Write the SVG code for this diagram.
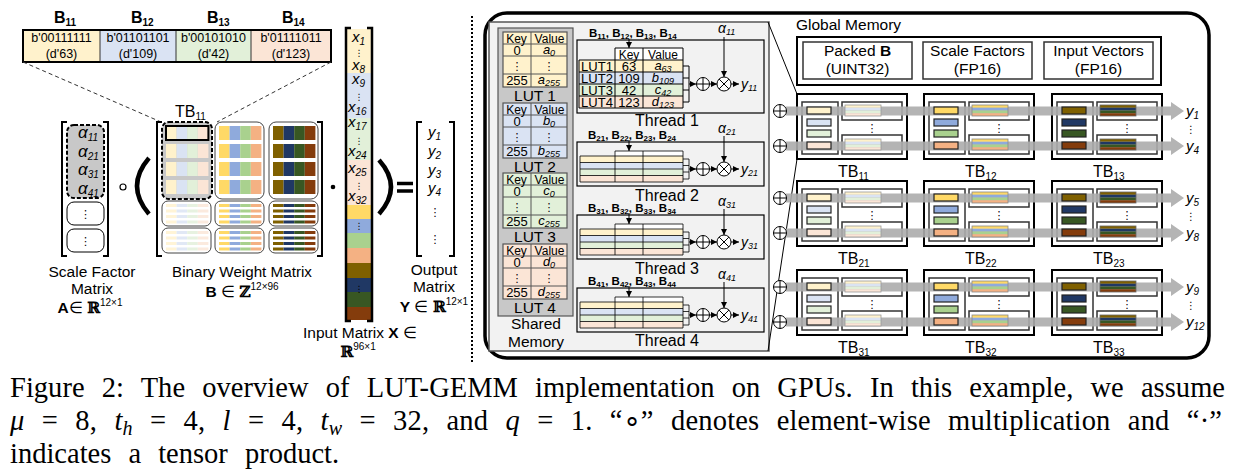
<svg xmlns="http://www.w3.org/2000/svg" xmlns:xlink="http://www.w3.org/1999/xlink" width="1245" height="473" viewBox="0 0 1245 473">
<style>
text{font-family:"Liberation Sans",Arial,sans-serif;fill:#000}
.c{text-anchor:middle}
.i{font-style:italic}
.b{font-weight:bold}
.bb{font-family:"DejaVu Serif",serif;font-weight:bold}
.dots{font-family:"DejaVu Sans",sans-serif;text-anchor:middle}
.cap{font-family:"Liberation Serif","Times New Roman",serif;font-size:28.5px;word-spacing:10px}
.hd{font-size:12px;text-anchor:middle}
.arr{fill:none;stroke:#000;stroke-width:1;marker-end:url(#ah)}
</style>
<defs>
<marker id="ah" viewBox="0 0 6 6" refX="6" refY="3" markerWidth="6" markerHeight="6" orient="auto"><path d="M0,0L6,3L0,6z" fill="#000"/></marker>
<g id="oplus"><circle r="6.5" fill="#fff" stroke="#000" stroke-width="1"/><path d="M-6.5,0H6.5M0,-6.5V6.5" stroke="#000" stroke-width="1"/></g>
<g id="otimes"><circle r="7" fill="#fff" stroke="#000" stroke-width="1"/><path d="M-4.9,-4.9L4.9,4.9M-4.9,4.9L4.9,-4.9" stroke="#000" stroke-width="1"/></g>
<g id="mrL"><rect width="10.6" height="14" fill="#FFF2CC"/><rect x="10.6" width="10.6" height="14" fill="#DAE3F3"/><rect x="21.2" width="10.6" height="14" fill="#E2F0D9"/><rect x="31.8" width="10.6" height="14" fill="#FBE5D6"/></g>
<g id="mrS"><rect width="10.6" height="14" fill="#FFD966"/><rect x="10.6" width="10.6" height="14" fill="#8FAADC"/><rect x="21.2" width="10.6" height="14" fill="#A9D18E"/><rect x="31.8" width="10.6" height="14" fill="#F4B183"/></g>
<g id="mrD"><rect width="10.6" height="14" fill="#7F6000"/><rect x="10.6" width="10.6" height="14" fill="#203864"/><rect x="21.2" width="10.6" height="14" fill="#385723"/><rect x="31.8" width="10.6" height="14" fill="#843C0C"/></g>
<g id="srL"><rect width="10.6" height="3" fill="#FFF2CC"/><rect x="10.6" width="10.6" height="3" fill="#DAE3F3"/><rect x="21.2" width="10.6" height="3" fill="#E2F0D9"/><rect x="31.8" width="10.6" height="3" fill="#FBE5D6"/></g>
<g id="srS"><rect width="10.6" height="3" fill="#FFD966"/><rect x="10.6" width="10.6" height="3" fill="#8FAADC"/><rect x="21.2" width="10.6" height="3" fill="#A9D18E"/><rect x="31.8" width="10.6" height="3" fill="#F4B183"/></g>
<g id="srD"><rect width="10.6" height="3" fill="#7F6000"/><rect x="10.6" width="10.6" height="3" fill="#203864"/><rect x="21.2" width="10.6" height="3" fill="#385723"/><rect x="31.8" width="10.6" height="3" fill="#843C0C"/></g>
<g id="lowBox"><rect width="49" height="25" rx="6" fill="#fff" stroke="#444" stroke-width="1"/></g>
<g id="tbF">
<rect width="110" height="65" fill="#fff" stroke="#000" stroke-width="2"/>
<rect x="5" y="8" width="36" height="52" fill="#fff" stroke="#333" stroke-width="1.5"/>
<rect x="45" y="8" width="60" height="18" fill="#fff" stroke="#333" stroke-width="1.5"/>
<rect x="45" y="41" width="60" height="19" fill="#fff" stroke="#333" stroke-width="1.5"/>
<text x="75" y="38" class="dots" font-size="11">⋮</text>
</g>
<g id="tsL"><rect width="36" height="2.75" fill="#FFF2CC"/><rect y="2.75" width="36" height="2.75" fill="#DAE3F3"/><rect y="5.5" width="36" height="2.75" fill="#E2F0D9"/><rect y="8.25" width="36" height="2.75" fill="#FBE5D6"/><rect width="36" height="11" fill="none" stroke="#999" stroke-width="0.8"/></g>
<g id="tsS"><rect width="36" height="2.75" fill="#FFD966"/><rect y="2.75" width="36" height="2.75" fill="#8FAADC"/><rect y="5.5" width="36" height="2.75" fill="#A9D18E"/><rect y="8.25" width="36" height="2.75" fill="#F4B183"/><rect width="36" height="11" fill="none" stroke="#888" stroke-width="0.8"/></g>
<g id="tsD"><rect width="36" height="2.75" fill="#7F6000"/><rect y="2.75" width="36" height="2.75" fill="#203864"/><rect y="5.5" width="36" height="2.75" fill="#385723"/><rect y="8.25" width="36" height="2.75" fill="#843C0C"/><rect width="36" height="11" fill="none" stroke="#666" stroke-width="0.8"/></g>
<g id="tbcL"><rect x="10" y="13" width="24" height="7" fill="#FFF2CC" stroke="#222" stroke-width="1.2"/><rect x="10" y="25" width="24" height="7" fill="#DAE3F3" stroke="#222" stroke-width="1.2"/><rect x="10" y="36" width="24" height="7" fill="#E2F0D9" stroke="#222" stroke-width="1.2"/><rect x="10" y="48" width="24" height="7" fill="#FBE5D6" stroke="#222" stroke-width="1.2"/><use href="#tsL" x="48" y="11"/><use href="#tsL" x="48" y="45"/></g>
<g id="tbcS"><rect x="10" y="13" width="24" height="7" fill="#FFD966" stroke="#222" stroke-width="1.2"/><rect x="10" y="25" width="24" height="7" fill="#8FAADC" stroke="#222" stroke-width="1.2"/><rect x="10" y="36" width="24" height="7" fill="#A9D18E" stroke="#222" stroke-width="1.2"/><rect x="10" y="48" width="24" height="7" fill="#F4B183" stroke="#222" stroke-width="1.2"/><use href="#tsS" x="48" y="11"/><use href="#tsS" x="48" y="45"/></g>
<g id="tbcD"><rect x="10" y="13" width="24" height="7" fill="#7F6000" stroke="#222" stroke-width="1.2"/><rect x="10" y="25" width="24" height="7" fill="#203864" stroke="#222" stroke-width="1.2"/><rect x="10" y="36" width="24" height="7" fill="#385723" stroke="#222" stroke-width="1.2"/><rect x="10" y="48" width="24" height="7" fill="#843C0C" stroke="#222" stroke-width="1.2"/><use href="#tsD" x="48" y="11"/><use href="#tsD" x="48" y="45"/></g>
<g id="lutG"><rect width="64" height="55" stroke="#555" stroke-width="1.2"/><path d="M0,12H64M0,24H64M0,42H64M28,0V55" stroke="#555" fill="none" stroke-width="1"/></g>
<g id="thrS">
<rect width="187" height="44" fill="none" stroke="#000" stroke-width="1.2"/>
<rect x="38" y="9" width="68" height="5" fill="#fff"/>
<rect x="3" y="14" width="103" height="6.5" fill="#FFF2CC"/>
<rect x="3" y="20.5" width="103" height="6.5" fill="#DAE3F3"/>
<rect x="3" y="27" width="103" height="6.5" fill="#E2F0D9"/>
<rect x="3" y="33.5" width="103" height="6.5" fill="#FBE5D6"/>
<path d="M38,9H106M3,14H106M3,20.5H106M3,27H106M3,33.5H106M3,40H106M3,14V40M38,9V40M66,9V40M106,9V40" stroke="#000" stroke-width="0.8" fill="none"/>
<path d="M106,17H112M106,23.5H112M106,30H112M106,37H112M112,17V37" stroke="#000" stroke-width="0.8" fill="none"/>
<line x1="112" y1="27" x2="119" y2="27" class="arr"/>
<use href="#oplus" x="126" y="27"/>
<line x1="133" y1="27" x2="140" y2="27" class="arr"/>
<use href="#otimes" x="147" y="27"/>
<line x1="154" y1="27" x2="162" y2="27" class="arr"/>
<line x1="52" y1="-2" x2="52" y2="9" class="arr"/>
<line x1="147" y1="-6" x2="147" y2="20" class="arr"/>
</g>
</defs>

<rect width="1245" height="473" fill="#fff"/>

<g id="packedB">
<rect x="23" y="30" width="77" height="32" fill="#FFF2CC"/>
<rect x="100" y="30" width="76" height="32" fill="#DAE3F3"/>
<rect x="176" y="30" width="75" height="32" fill="#E2F0D9"/>
<rect x="251" y="30" width="80" height="32" fill="#FBE5D6"/>
<path d="M100,30V62M176,30V62M251,30V62" stroke="#333" stroke-width="1"/>
<rect x="23" y="30" width="308" height="32" fill="none" stroke="#000" stroke-width="2"/>
<g font-size="12.5">
<text x="61.5" y="42" class="c">b'00111111</text><text x="61.5" y="58" class="c">(d'63)</text>
<text x="138" y="42" class="c">b'01101101</text><text x="138" y="58" class="c">(d'109)</text>
<text x="213.5" y="42" class="c">b'00101010</text><text x="213.5" y="58" class="c">(d'42)</text>
<text x="291" y="42" class="c">b'01111011</text><text x="291" y="58" class="c">(d'123)</text>
</g>
<g font-size="16">
<text x="54" y="23" class="b">B<tspan font-size="10" dy="3">11</tspan></text>
<text x="131" y="23" class="b">B<tspan font-size="10" dy="3">12</tspan></text>
<text x="207" y="23" class="b">B<tspan font-size="10" dy="3">13</tspan></text>
<text x="282" y="23" class="b">B<tspan font-size="10" dy="3">14</tspan></text>
</g>
</g>

<g id="zoomLines">
<path d="M23,62L168,125M331,62L217,122" stroke="#333" stroke-width="1" stroke-dasharray="4,3" fill="none"/>
</g>
<text x="175" y="117" font-size="16">TB<tspan font-size="10" dy="3">11</tspan></text>

<g id="scaleMatrix">
<path d="M67,122H62V256H67M103,122H108V256H103" fill="none" stroke="#000" stroke-width="2"/>
<rect x="67" y="125" width="37" height="73" rx="7" fill="#c8c8c8" stroke="#000" stroke-width="2" stroke-dasharray="4,2"/>
<g font-size="17">
<text x="78" y="138" class="i">α<tspan font-size="10" dy="3">11</tspan></text>
<text x="78" y="157" class="i">α<tspan font-size="10" dy="3">21</tspan></text>
<text x="78" y="175" class="i">α<tspan font-size="10" dy="3">31</tspan></text>
<text x="78" y="194" class="i">α<tspan font-size="10" dy="3">41</tspan></text>
</g>
<rect x="67" y="202" width="37" height="23" rx="7" fill="#fff" stroke="#000" stroke-width="1"/>
<rect x="67" y="229" width="37" height="23" rx="7" fill="#fff" stroke="#000" stroke-width="1"/>
<text x="85.5" y="218" class="dots" font-size="11">⋮</text>
<text x="85.5" y="245" class="dots" font-size="11">⋮</text>
</g>
<circle cx="123" cy="187" r="3" fill="#fff" stroke="#000" stroke-width="1.2"/>
<path d="M149,158Q125,186 149,214" fill="none" stroke="#000" stroke-width="4.5"/>

<g id="weightMatrix">
<path d="M162,122H157V256H162M317,122H322V256H317" fill="none" stroke="#000" stroke-width="2"/>
<rect x="162" y="122" width="50" height="77" rx="7" fill="#c8c8c8" stroke="#000" stroke-width="2" stroke-dasharray="4,2"/>
<use href="#mrL" x="166" y="126"/><use href="#mrL" x="166" y="144"/><use href="#mrL" x="166" y="162"/><use href="#mrL" x="166" y="180"/>
<rect x="166" y="126" width="42.4" height="14" fill="none" stroke="#000" stroke-width="2"/>
<rect x="215" y="122" width="49" height="77" rx="7" fill="#fff" stroke="#444" stroke-width="1"/>
<use href="#mrS" x="219" y="126"/><use href="#mrS" x="219" y="144"/><use href="#mrS" x="219" y="162"/><use href="#mrS" x="219" y="180"/>
<rect x="269" y="122" width="49" height="77" rx="7" fill="#fff" stroke="#444" stroke-width="1"/>
<use href="#mrD" x="273" y="126"/><use href="#mrD" x="273" y="144"/><use href="#mrD" x="273" y="162"/><use href="#mrD" x="273" y="180"/>
<use href="#lowBox" x="162" y="201"/><use href="#lowBox" x="162" y="228"/>
<use href="#lowBox" x="215" y="201"/><use href="#lowBox" x="215" y="228"/>
<use href="#lowBox" x="269" y="201"/><use href="#lowBox" x="269" y="228"/>
<g opacity="0.8">
<use href="#srL" x="166" y="204"/><use href="#srL" x="166" y="209.5"/><use href="#srL" x="166" y="215"/><use href="#srL" x="166" y="220.5"/>
<use href="#srL" x="166" y="231"/><use href="#srL" x="166" y="236.5"/><use href="#srL" x="166" y="242"/><use href="#srL" x="166" y="247.5"/>
</g>
<use href="#srS" x="219" y="204"/><use href="#srS" x="219" y="209.5"/><use href="#srS" x="219" y="215"/><use href="#srS" x="219" y="220.5"/>
<use href="#srS" x="219" y="231"/><use href="#srS" x="219" y="236.5"/><use href="#srS" x="219" y="242"/><use href="#srS" x="219" y="247.5"/>
<use href="#srD" x="273" y="204"/><use href="#srD" x="273" y="209.5"/><use href="#srD" x="273" y="215"/><use href="#srD" x="273" y="220.5"/>
<use href="#srD" x="273" y="231"/><use href="#srD" x="273" y="236.5"/><use href="#srD" x="273" y="242"/><use href="#srD" x="273" y="247.5"/>
</g>
<circle cx="333" cy="187" r="2.3" fill="#000"/>

<g id="inputVector">
<rect x="347" y="29" width="24" height="44" fill="#FFF2CC"/>
<rect x="347" y="73" width="24" height="45" fill="#DAE3F3"/>
<rect x="347" y="118" width="24" height="42" fill="#E2F0D9"/>
<rect x="347" y="160" width="24" height="45" fill="#FBE5D6"/>
<rect x="347" y="205" width="24" height="14" fill="#FFD966"/>
<rect x="347" y="219" width="24" height="14" fill="#8FAADC"/>
<rect x="347" y="233" width="24" height="15" fill="#A9D18E"/>
<rect x="347" y="248" width="24" height="15" fill="#F4B183"/>
<rect x="347" y="263" width="24" height="15" fill="#7F6000"/>
<rect x="347" y="278" width="24" height="14" fill="#203864"/>
<rect x="347" y="292" width="24" height="15" fill="#385723"/>
<rect x="347" y="307" width="24" height="13" fill="#843C0C"/>
<path d="M351,28H346V321H351M367,28H372V321H367" fill="none" stroke="#000" stroke-width="2.5"/>
<g font-size="15">
<text x="352" y="42" class="i">x<tspan font-size="10" dy="3">1</tspan></text>
<text x="352" y="70" class="i">x<tspan font-size="10" dy="3">8</tspan></text>
<text x="352" y="84" class="i">x<tspan font-size="10" dy="3">9</tspan></text>
<text x="348" y="112" class="i">x<tspan font-size="10" dy="3">16</tspan></text>
<text x="348" y="127" class="i">x<tspan font-size="10" dy="3">17</tspan></text>
<text x="348" y="156" class="i">x<tspan font-size="10" dy="3">24</tspan></text>
<text x="348" y="173" class="i">x<tspan font-size="10" dy="3">25</tspan></text>
<text x="348" y="201" class="i">x<tspan font-size="10" dy="3">32</tspan></text>
</g>
<text x="359" y="56" class="dots" font-size="9">⋮</text>
<text x="359" y="100" class="dots" font-size="9">⋮</text>
<text x="359" y="144" class="dots" font-size="9">⋮</text>
<text x="359" y="189" class="dots" font-size="9">⋮</text>
<text x="359" y="229" class="dots" font-size="9">⋮</text>
<text x="359" y="292" class="dots" font-size="9">⋮</text>
</g>
<path d="M379,160Q403,187 379,214" fill="none" stroke="#000" stroke-width="4.5"/>
<path d="M397,183.5H413M397,191H413" stroke="#000" stroke-width="3.5"/>

<g id="outputMatrix">
<path d="M422,122H417V256H422M449,122H454V256H449" fill="none" stroke="#000" stroke-width="2"/>
<g font-size="15">
<text x="428" y="137" class="i">y<tspan font-size="10" dy="3">1</tspan></text>
<text x="428" y="156" class="i">y<tspan font-size="10" dy="3">2</tspan></text>
<text x="428" y="175" class="i">y<tspan font-size="10" dy="3">3</tspan></text>
<text x="428" y="193" class="i">y<tspan font-size="10" dy="3">4</tspan></text>
</g>
<text x="435" y="216" class="dots" font-size="11">⋮</text>
<text x="435" y="243" class="dots" font-size="11">⋮</text>
</g>

<g id="leftLabels">
<text x="92" y="277" class="c" font-size="15.5">Scale Factor</text>
<text x="92" y="294" class="c" font-size="15.5">Matrix</text>
<text x="90" y="313" class="c" font-size="15.5"><tspan class="b">A</tspan>∈ <tspan class="bb">ℝ</tspan><tspan font-size="10" dy="-7">12×1</tspan></text>
<text x="242" y="277" class="c" font-size="15.2">Binary Weight Matrix</text>
<text x="242" y="297" class="c" font-size="15.5"><tspan class="b">B</tspan> ∈ <tspan class="bb">ℤ</tspan><tspan font-size="10" dy="-7">12×96</tspan></text>
<text x="360" y="338" class="c" font-size="15.5">Input Matrix <tspan class="b">X</tspan> ∈</text>
<text x="358" y="357" class="c" font-size="15.5"><tspan class="bb">ℝ</tspan><tspan font-size="10" dy="-7">96×1</tspan></text>
<text x="434" y="275" class="c" font-size="15.5">Output</text>
<text x="434" y="292" class="c" font-size="15.5">Matrix</text>
<text x="434" y="312" class="c" font-size="15.5"><tspan class="b">Y</tspan> ∈ <tspan class="bb">ℝ</tspan><tspan font-size="10" dy="-7">12×1</tspan></text>
</g>

<line x1="472" y1="16" x2="472" y2="362" stroke="#000" stroke-width="2" stroke-dasharray="2,2"/>

<rect x="485" y="13" width="724" height="345" rx="22" fill="#fff" stroke="#000" stroke-width="3.5"/>

<g id="threadPanel">
<rect x="489" y="22" width="280" height="329" fill="#f2f2f2" stroke="#555" stroke-width="1.5"/>
</g>

<g id="sharedMemory">
<rect x="498" y="28" width="75" height="288" fill="#c8c8c8" stroke="#555" stroke-width="1.2"/>
<use href="#lutG" x="503" y="32" fill="#FFF2CC"/>
<use href="#lutG" x="503" y="103" fill="#DAE3F3"/>
<use href="#lutG" x="503" y="173" fill="#E2F0D9"/>
<use href="#lutG" x="503" y="244" fill="#FBE5D6"/>
<text x="516.5" y="42.5" class="hd">Key</text><text x="549.5" y="42.5" class="hd" textLength="30">Value</text>
<text x="517" y="54.5" class="c" font-size="13">0</text><text x="549" y="54" class="c i" font-size="13">a<tspan font-size="9" dy="1.5">0</tspan></text>
<text x="517" y="70" class="dots" font-size="11">⋮</text><text x="549" y="70" class="dots" font-size="11">⋮</text>
<text x="517" y="84.5" class="c" font-size="13">255</text><text x="549" y="84" class="c i" font-size="13">a<tspan font-size="9" dy="1.5">255</tspan></text>

<text x="516.5" y="113.5" class="hd">Key</text><text x="549.5" y="113.5" class="hd" textLength="30">Value</text>
<text x="517" y="125.5" class="c" font-size="13">0</text><text x="549" y="125" class="c i" font-size="13">b<tspan font-size="9" dy="1.5">0</tspan></text>
<text x="517" y="141" class="dots" font-size="11">⋮</text><text x="549" y="141" class="dots" font-size="11">⋮</text>
<text x="517" y="155.5" class="c" font-size="13">255</text><text x="549" y="155" class="c i" font-size="13">b<tspan font-size="9" dy="1.5">255</tspan></text>

<text x="516.5" y="183.5" class="hd">Key</text><text x="549.5" y="183.5" class="hd" textLength="30">Value</text>
<text x="517" y="195.5" class="c" font-size="13">0</text><text x="549" y="195" class="c i" font-size="13">c<tspan font-size="9" dy="1.5">0</tspan></text>
<text x="517" y="211" class="dots" font-size="11">⋮</text><text x="549" y="211" class="dots" font-size="11">⋮</text>
<text x="517" y="225.5" class="c" font-size="13">255</text><text x="549" y="225" class="c i" font-size="13">c<tspan font-size="9" dy="1.5">255</tspan></text>

<text x="516.5" y="254.5" class="hd">Key</text><text x="549.5" y="254.5" class="hd" textLength="30">Value</text>
<text x="517" y="266.5" class="c" font-size="13">0</text><text x="549" y="266" class="c i" font-size="13">d<tspan font-size="9" dy="1.5">0</tspan></text>
<text x="517" y="282" class="dots" font-size="11">⋮</text><text x="549" y="282" class="dots" font-size="11">⋮</text>
<text x="517" y="296.5" class="c" font-size="13">255</text><text x="549" y="296" class="c i" font-size="13">d<tspan font-size="9" dy="1.5">255</tspan></text>
<text x="535" y="101" class="c" font-size="15.5">LUT 1</text>
<text x="535" y="172" class="c" font-size="15.5">LUT 2</text>
<text x="535" y="242" class="c" font-size="15.5">LUT 3</text>
<text x="535" y="313" class="c" font-size="15.5">LUT 4</text>
<text x="536" y="329" class="c" font-size="15.5">Shared</text>
<text x="536" y="347" class="c" font-size="15.5">Memory</text>
</g>

<g id="thread1">
<rect x="577" y="40" width="187" height="73" fill="none" stroke="#000" stroke-width="1.2"/>
<text x="589" y="37" class="b" font-size="11.5">B<tspan font-size="8" dy="2">11</tspan><tspan dy="-2">, B</tspan><tspan font-size="8" dy="2">12</tspan><tspan dy="-2">, B</tspan><tspan font-size="8" dy="2">13</tspan><tspan dy="-2">, B</tspan><tspan font-size="8" dy="2">14</tspan></text>
<line x1="629" y1="39" x2="629" y2="48" class="arr"/>
<text x="718" y="33" class="i" font-size="14">α<tspan font-size="9" dy="2">11</tspan></text>
<line x1="724" y1="37" x2="724" y2="77" class="arr"/>
<rect x="615" y="48" width="28" height="12" fill="#fff"/><rect x="643" y="48" width="40" height="12" fill="#fff"/>
<rect x="579" y="60" width="104" height="12" fill="#FFF2CC"/>
<rect x="579" y="72" width="104" height="12" fill="#DAE3F3"/>
<rect x="579" y="84" width="104" height="12" fill="#E2F0D9"/>
<rect x="579" y="96" width="104" height="12" fill="#FBE5D6"/>
<path d="M615,48H683M579,60H683M579,72H683M579,84H683M579,96H683M579,108H683M579,60V108M615,48V108M643,48V108M683,48V108" stroke="#000" stroke-width="1" fill="none"/>
<text x="629" y="58.5" class="hd">Key</text><text x="663" y="58.5" class="hd">Value</text>
<text x="597" y="70.5" class="c" font-size="13">LUT1</text><text x="629" y="70.5" class="c" font-size="13">63</text><text x="663" y="70" class="c i" font-size="13">a<tspan font-size="9" dy="1.5">63</tspan></text>
<text x="597" y="82.5" class="c" font-size="13">LUT2</text><text x="629" y="82.5" class="c" font-size="13">109</text><text x="663" y="82" class="c i" font-size="13">b<tspan font-size="9" dy="1.5">109</tspan></text>
<text x="597" y="94.5" class="c" font-size="13">LUT3</text><text x="629" y="94.5" class="c" font-size="13">42</text><text x="663" y="94" class="c i" font-size="13">c<tspan font-size="9" dy="1.5">42</tspan></text>
<text x="597" y="106.5" class="c" font-size="13">LUT4</text><text x="629" y="106.5" class="c" font-size="13">123</text><text x="663" y="106" class="c i" font-size="13">d<tspan font-size="9" dy="1.5">123</tspan></text>
<path d="M683,66H689M683,78H689M683,90H689M683,102H689M689,66V102" stroke="#000" stroke-width="1" fill="none"/>
<line x1="689" y1="84" x2="696" y2="84" class="arr"/>
<use href="#oplus" x="703" y="84"/>
<line x1="710" y1="84" x2="717" y2="84" class="arr"/>
<use href="#otimes" x="724" y="84"/>
<line x1="731" y1="84" x2="739" y2="84" class="arr"/>
<text x="741" y="89" class="i" font-size="14">y<tspan font-size="9" dy="2">11</tspan></text>
<text x="667" y="126" class="c" font-size="16">Thread 1</text>
</g>

<g id="thread2">
<use href="#thrS" x="577" y="142"/>
<text x="588" y="139" class="b" font-size="11.5">B<tspan font-size="8" dy="2">21</tspan><tspan dy="-2">, B</tspan><tspan font-size="8" dy="2">22</tspan><tspan dy="-2">, B</tspan><tspan font-size="8" dy="2">23</tspan><tspan dy="-2">, B</tspan><tspan font-size="8" dy="2">24</tspan></text>
<text x="718" y="133" class="i" font-size="14">α<tspan font-size="9" dy="2">21</tspan></text>
<text x="741" y="174" class="i" font-size="14">y<tspan font-size="9" dy="2">21</tspan></text>
<text x="667" y="201" class="c" font-size="16">Thread 2</text>
</g>
<g id="thread3">
<use href="#thrS" x="577" y="215"/>
<text x="588" y="212" class="b" font-size="11.5">B<tspan font-size="8" dy="2">31</tspan><tspan dy="-2">, B</tspan><tspan font-size="8" dy="2">32</tspan><tspan dy="-2">, B</tspan><tspan font-size="8" dy="2">33</tspan><tspan dy="-2">, B</tspan><tspan font-size="8" dy="2">34</tspan></text>
<text x="718" y="206" class="i" font-size="14">α<tspan font-size="9" dy="2">31</tspan></text>
<text x="741" y="247" class="i" font-size="14">y<tspan font-size="9" dy="2">31</tspan></text>
<text x="667" y="274" class="c" font-size="16">Thread 3</text>
</g>
<g id="thread4">
<use href="#thrS" x="577" y="288"/>
<text x="588" y="285" class="b" font-size="11.5">B<tspan font-size="8" dy="2">41</tspan><tspan dy="-2">, B</tspan><tspan font-size="8" dy="2">42</tspan><tspan dy="-2">, B</tspan><tspan font-size="8" dy="2">43</tspan><tspan dy="-2">, B</tspan><tspan font-size="8" dy="2">44</tspan></text>
<text x="718" y="279" class="i" font-size="14">α<tspan font-size="9" dy="2">41</tspan></text>
<text x="741" y="320" class="i" font-size="14">y<tspan font-size="9" dy="2">41</tspan></text>
<text x="667" y="346" class="c" font-size="16">Thread 4</text>
</g>

<g id="globalMemory">
<text x="796" y="30" font-size="15.5">Global Memory</text>
<rect x="797" y="37" width="364" height="48" fill="#fff" stroke="#000" stroke-width="2"/>
<rect x="803" y="42" width="109" height="37" fill="#fff" stroke="#333" stroke-width="1.5"/>
<rect x="923" y="42" width="109" height="37" fill="#fff" stroke="#333" stroke-width="1.5"/>
<rect x="1044" y="42" width="109" height="37" fill="#fff" stroke="#333" stroke-width="1.5"/>
<text x="857.5" y="56" class="c" font-size="15.5">Packed <tspan class="b">B</tspan></text>
<text x="857.5" y="74" class="c" font-size="15.5">(UINT32)</text>
<text x="977.5" y="56" class="c" font-size="15.5">Scale Factors</text>
<text x="977.5" y="74" class="c" font-size="15.5">(FP16)</text>
<text x="1098.5" y="56" class="c" font-size="15.5">Input Vectors</text>
<text x="1098.5" y="74" class="c" font-size="15.5">(FP16)</text>
</g>

<g id="connectors">
<path d="M768,22L797,94M768,351L797,159" stroke="#000" stroke-width="1" fill="none"/>
</g>

<g id="tbFrames">
<use href="#tbF" x="797" y="94"/><use href="#tbF" x="924" y="94"/><use href="#tbF" x="1052" y="94"/>
<use href="#tbF" x="797" y="181"/><use href="#tbF" x="924" y="181"/><use href="#tbF" x="1052" y="181"/>
<use href="#tbF" x="797" y="270"/><use href="#tbF" x="924" y="270"/><use href="#tbF" x="1052" y="270"/>
</g>
<g id="bands" fill="#acacac" opacity="0.9">
<path d="M786,106.5H1171V102L1184,111L1171,120V115.5H786Z"/>
<path d="M786,141.5H1171V137L1184,146L1171,155V150.5H786Z"/>
<path d="M786,193.5H1171V189L1184,198L1171,207V202.5H786Z"/>
<path d="M786,228.5H1171V224L1184,233L1171,242V237.5H786Z"/>
<path d="M786,282.5H1171V278L1184,287L1171,296V291.5H786Z"/>
<path d="M786,317.5H1171V313L1184,322L1171,331V326.5H786Z"/>
</g>
<g id="tbContents">
<use href="#tbcL" x="797" y="94"/><use href="#tbcS" x="924" y="94"/><use href="#tbcD" x="1052" y="94"/>
<use href="#tbcL" x="797" y="181"/><use href="#tbcS" x="924" y="181"/><use href="#tbcD" x="1052" y="181"/>
<use href="#tbcL" x="797" y="270"/><use href="#tbcS" x="924" y="270"/><use href="#tbcD" x="1052" y="270"/>
</g>
<g id="tbAdders">
<use href="#oplus" x="780" y="111"/><use href="#oplus" x="780" y="146"/>
<use href="#oplus" x="780" y="198"/><use href="#oplus" x="780" y="233"/>
<use href="#oplus" x="780" y="287"/><use href="#oplus" x="780" y="322"/>
</g>
<g id="tbLabels">
<text x="838" y="177" font-size="16">TB<tspan font-size="10" dy="3">11</tspan></text>
<text x="965" y="177" font-size="16">TB<tspan font-size="10" dy="3">12</tspan></text>
<text x="1093" y="177" font-size="16">TB<tspan font-size="10" dy="3">13</tspan></text>
<text x="838" y="264" font-size="16">TB<tspan font-size="10" dy="3">21</tspan></text>
<text x="965" y="264" font-size="16">TB<tspan font-size="10" dy="3">22</tspan></text>
<text x="1093" y="264" font-size="16">TB<tspan font-size="10" dy="3">23</tspan></text>
<text x="838" y="353" font-size="16">TB<tspan font-size="10" dy="3">31</tspan></text>
<text x="965" y="353" font-size="16">TB<tspan font-size="10" dy="3">32</tspan></text>
<text x="1093" y="353" font-size="16">TB<tspan font-size="10" dy="3">33</tspan></text>
</g>
<g id="yLabels">
<text x="1186" y="116" class="i" font-size="15">y<tspan font-size="10" dy="3">1</tspan></text>
<text x="1191" y="133" class="dots" font-size="10">⋮</text>
<text x="1186" y="151" class="i" font-size="15">y<tspan font-size="10" dy="3">4</tspan></text>
<text x="1186" y="203" class="i" font-size="15">y<tspan font-size="10" dy="3">5</tspan></text>
<text x="1191" y="220" class="dots" font-size="10">⋮</text>
<text x="1186" y="238" class="i" font-size="15">y<tspan font-size="10" dy="3">8</tspan></text>
<text x="1186" y="292" class="i" font-size="15">y<tspan font-size="10" dy="3">9</tspan></text>
<text x="1191" y="309" class="dots" font-size="10">⋮</text>
<text x="1186" y="327" class="i" font-size="15">y<tspan font-size="10" dy="3">12</tspan></text>
</g>

<g id="caption">
<text x="10" y="397" class="cap" textLength="1215">Figure 2: The overview of LUT-GEMM implementation on GPUs. In this example, we assume</text>
<text x="10" y="430" class="cap" textLength="1212"><tspan class="i">μ</tspan> = 8, <tspan class="i">t</tspan><tspan class="i" font-size="20" dy="5">h</tspan><tspan dy="-5"> = 4, </tspan><tspan class="i">l</tspan> = 4, <tspan class="i">t</tspan><tspan class="i" font-size="20" dy="5">w</tspan><tspan dy="-5"> = 32, and </tspan><tspan class="i">q</tspan> = 1. “∘” denotes element-wise multiplication and “·”</text>
<text x="10" y="463" class="cap">indicates a tensor product.</text>
</g>
</svg>
